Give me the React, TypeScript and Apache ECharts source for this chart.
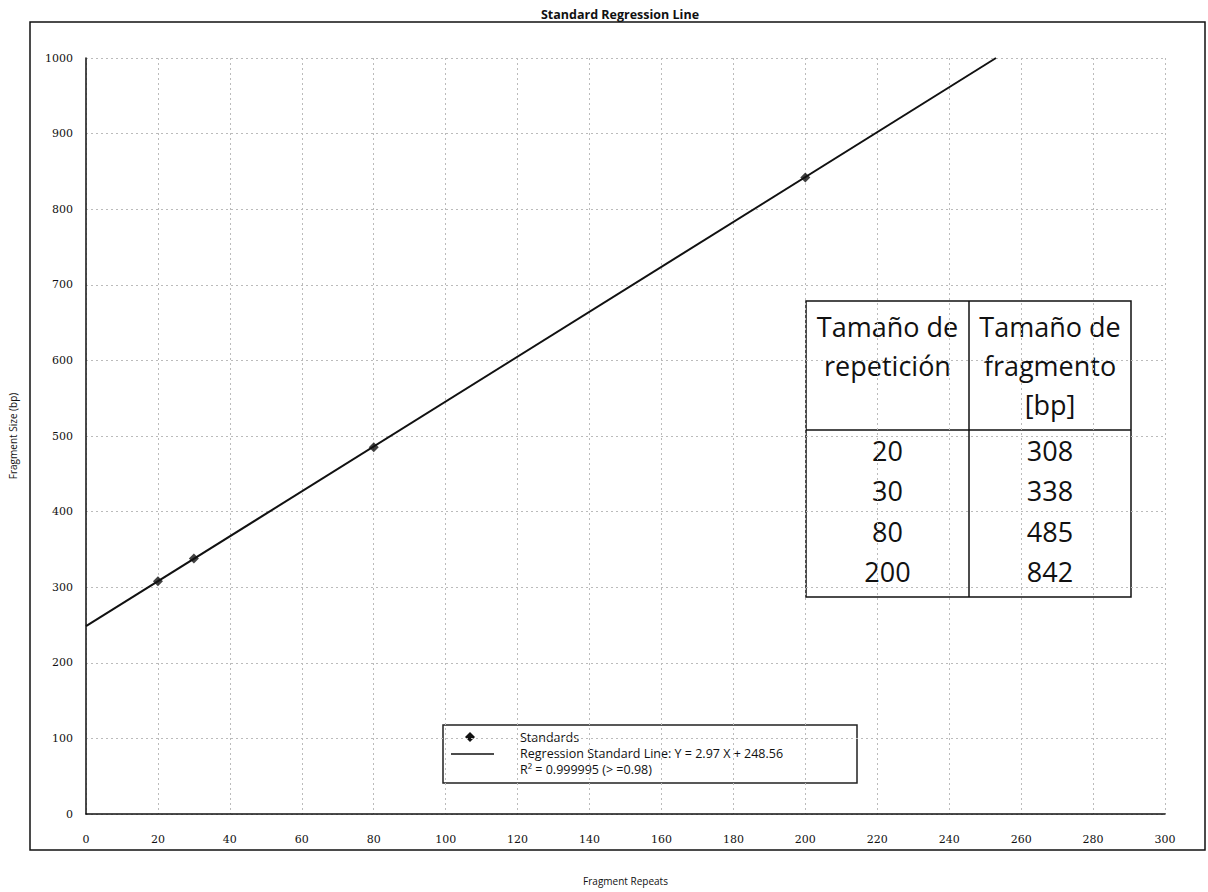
import React, { useEffect, useRef } from "react";
import * as echarts from "echarts";

const repeats = [20, 30, 80, 200];
const sizes = [308, 338, 485, 842];
const slope = 2.97;
const intercept = 248.56;
const rSquared = "0.999995";
const xTicks = [0, 20, 40, 60, 80, 100, 120, 140, 160, 180, 200, 220, 240, 260, 280, 300];
const yTicks = [0, 100, 200, 300, 400, 500, 600, 700, 800, 900, 1000];
const tableHeader = ["Tamaño de\nrepetición", "Tamaño de\nfragmento\n[bp]"];

export default function App() {
  const ref = useRef<HTMLDivElement>(null);
  useEffect(() => {
    if (!ref.current) return;
    const chart = echarts.init(ref.current, undefined, { renderer: "svg" });
    const xEnd = (1000 - intercept) / slope;
    const font = "Open Sans, DejaVu Sans, sans-serif";
    const tblFont = "Open Sans, Noto Sans, sans-serif";

    // table graphics
    const tx = 806, ty = 301, colW1 = 163, colW2 = 162, headH = 129, rowH = 40.5, pad = 5;
    const tH = headH + rowH * repeats.length + pad;
    const tableEls: any[] = [];
    tableEls.push({ type: "rect", shape: { x: tx, y: ty, width: colW1 + colW2, height: tH }, style: { fill: "#fff", stroke: "#111", lineWidth: 1.5 } });
    tableEls.push({ type: "line", shape: { x1: tx + colW1, y1: ty, x2: tx + colW1, y2: ty + tH }, style: { stroke: "#111", lineWidth: 1.5 } });
    tableEls.push({ type: "line", shape: { x1: tx, y1: ty + headH, x2: tx + colW1 + colW2, y2: ty + headH }, style: { stroke: "#111", lineWidth: 1.5 } });
    tableEls.push({ type: "text", x: tx + colW1 / 2, y: ty + 6, style: { text: tableHeader[0], font: `27px ${tblFont}`, fill: "#111", align: "center", verticalAlign: "top", lineHeight: 39 } });
    tableEls.push({ type: "text", x: tx + colW1 + colW2 / 2, y: ty + 6, style: { text: tableHeader[1], font: `27px ${tblFont}`, fill: "#111", align: "center", verticalAlign: "top", lineHeight: 39 } });
    repeats.forEach((r, i) => {
      const cy = ty + headH + 20 + rowH * i;
      tableEls.push({ type: "text", x: tx + colW1 / 2, y: cy, style: { text: String(r), font: `27px ${tblFont}`, fill: "#111", align: "center", verticalAlign: "middle" } });
      tableEls.push({ type: "text", x: tx + colW1 + colW2 / 2, y: cy, style: { text: String(sizes[i]), font: `27px ${tblFont}`, fill: "#111", align: "center", verticalAlign: "middle" } });
    });

    const lx = 443, ly = 725;
    const legendEls: any[] = [
      { type: "rect", shape: { x: lx, y: ly, width: 414, height: 58 }, style: { fill: "#fff", stroke: "#222", lineWidth: 1.5 } },
      { type: "polygon", shape: { points: [[lx + 27, ly + 7], [lx + 32, ly + 12], [lx + 27, ly + 17], [lx + 22, ly + 12]] }, style: { fill: "#111" } },
      { type: "line", shape: { x1: lx + 8, y1: ly + 29, x2: lx + 51, y2: ly + 29 }, style: { stroke: "#111", lineWidth: 1.5 } },
      { type: "text", x: lx + 77, y: ly + 12, style: { text: "Standards", font: `12.5px ${font}`, fill: "#111", verticalAlign: "middle" } },
      { type: "text", x: lx + 77, y: ly + 28, style: { text: `Regression Standard Line: Y = ${slope} X + ${intercept}`, font: `12.5px ${font}`, fill: "#111", verticalAlign: "middle" } },
      { type: "text", x: lx + 77, y: ly + 44, style: { text: `R² = ${rSquared} (> =0.98)`, font: `12.5px ${font}`, fill: "#111", verticalAlign: "middle" } },
    ];

    chart.setOption({
      animation: false,
      backgroundColor: "#fff",
      title: {
        text: "Standard Regression Line",
        left: 615,
        top: 3,
        textAlign: "center",
        textStyle: { fontSize: 12.5, fontWeight: "bold", color: "#111", fontFamily: font },
      },
      grid: { left: 82, right: 43, top: 58, bottom: 78 },
      xAxis: {
        type: "value",
        min: 0,
        max: 300,
        interval: 20,
        name: "Fragment Repeats",
        nameLocation: "middle",
        nameGap: 62,
        nameTextStyle: { fontSize: 10, color: "#111", fontFamily: font },
        axisLine: { show: true, lineStyle: { color: "#111", width: 1.5 } },
        axisTick: { show: false },
        axisLabel: { fontSize: 11, color: "#111", margin: 20, fontFamily: "DejaVu Serif, serif", formatter: (v: number) => (xTicks.includes(v) ? String(v) : "") },
        splitLine: { show: true, lineStyle: { color: "#bbb", type: [2, 3], width: 1 } },
      },
      yAxis: {
        type: "value",
        min: 0,
        max: 1000,
        interval: 100,
        name: "Fragment Size (bp)",
        nameLocation: "middle",
        nameGap: 68,
        nameTextStyle: { fontSize: 10, color: "#111", fontFamily: font },
        axisLine: { show: true, lineStyle: { color: "#111", width: 1.5 } },
        axisTick: { show: false },
        axisLabel: { fontSize: 11, color: "#111", margin: 13, fontFamily: "DejaVu Serif, serif", formatter: (v: number) => (yTicks.includes(v) ? String(v) : "") },
        splitLine: { show: true, lineStyle: { color: "#bbb", type: [2, 3], width: 1 } },
      },
      series: [
        {
          name: "Regression Standard Line",
          type: "line",
          data: [[0, intercept], [xEnd, 1000]],
          symbol: "none",
          lineStyle: { color: "#111", width: 2 },
          z: 2,
        },
        {
          name: "Standards",
          type: "scatter",
          data: repeats.map((r, i) => [r, sizes[i]]),
          symbol: "diamond",
          symbolSize: 10,
          itemStyle: { color: "#111" },
          z: 3,
        },
      ],
      graphic: [
        { type: "rect", shape: { x: 30, y: 22, width: 1175, height: 828 }, style: { fill: "none", stroke: "#111", lineWidth: 1.5 }, z: -1 },
        ...tableEls,
        ...legendEls,
      ],
    });
    return () => chart.dispose();
  }, []);
  return <div ref={ref} style={{ position: "absolute", left: 0, top: 0, width: 1208, height: 892 }} />;
}
